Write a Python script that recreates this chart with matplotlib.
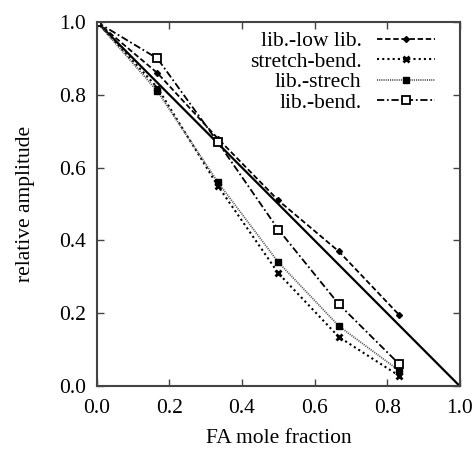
import numpy as np
import matplotlib
matplotlib.use("Agg")
import matplotlib.pyplot as plt

plt.rcParams['font.family'] = ['Liberation Serif', 'DejaVu Serif']

# FA mole fraction
x = [0.0, 1/6, 1/3, 1/2, 2/3, 5/6]
lib_low = [1.0, 0.86, 0.68, 0.51, 0.37, 0.195]
stretch_bend = [1.0, 0.82, 0.55, 0.31, 0.135, 0.028]
lib_strech = [1.0, 0.81, 0.56, 0.34, 0.165, 0.042]
lib_bend = [1.0, 0.90, 0.67, 0.43, 0.225, 0.06]
ideal_x = [0.0, 1.0]
ideal_y = [1.0, 0.0]

fig = plt.figure(figsize=(4.75, 4.5), dpi=100)
ax = fig.add_axes([0.204, 0.142, 0.764, 0.809])

ax.plot(ideal_x, ideal_y, color='black', lw=1.6)
ax.plot(x, lib_low, color='black', lw=1.3, ls=(0, (3, 1.5)),
        marker='D', ms=3, label='lib.-low lib.')
ax.plot(x, stretch_bend, color='black', lw=1.5, ls=(0, (1, 1.5)),
        marker='x', ms=5, mew=2, label='stretch-bend.')
ax.plot(x, lib_strech, color='#555555', lw=1.3, ls=(0, (0.6, 0.6)),
        marker='s', ms=4.5, mfc='black', mec='black', label='lib.-strech')
ax.plot(x, lib_bend, color='black', lw=1.3, ls=(0, (4, 1.5, 1, 1.5)),
        marker='s', ms=5.5, mfc='white', mec='black', mew=1.3, label='lib.-bend.')

ax.set_xlim(0, 1)
ax.set_ylim(0, 1)
ax.set_xticks(np.arange(0, 1.01, 0.2))
ax.set_yticks(np.arange(0, 1.01, 0.2))
ax.xaxis.set_major_formatter(matplotlib.ticker.FormatStrFormatter('%.1f'))
ax.yaxis.set_major_formatter(matplotlib.ticker.FormatStrFormatter('%.1f'))
ax.tick_params(direction='in', top=True, right=True, length=5, width=1,
               labelsize=15.5, color='#444444')
ax.tick_params(axis='x', pad=9)
ax.tick_params(axis='y', pad=8)
for s in ax.spines.values():
    s.set_linewidth(1.5)
    s.set_color('#444444')

ax.set_xlabel('FA mole fraction', fontsize=15.5, labelpad=8)
ax.set_ylabel('relative amplitude', fontsize=15.5, labelpad=17)

ax.legend(loc='upper right', bbox_to_anchor=(0.931, 0.975), frameon=False,
          markerfirst=False, fontsize=15.5, handlelength=2.7,
          handletextpad=0.7, labelspacing=0.02, borderpad=0,
          borderaxespad=0, alignment='right')

fig.savefig('out.png', dpi=100)
